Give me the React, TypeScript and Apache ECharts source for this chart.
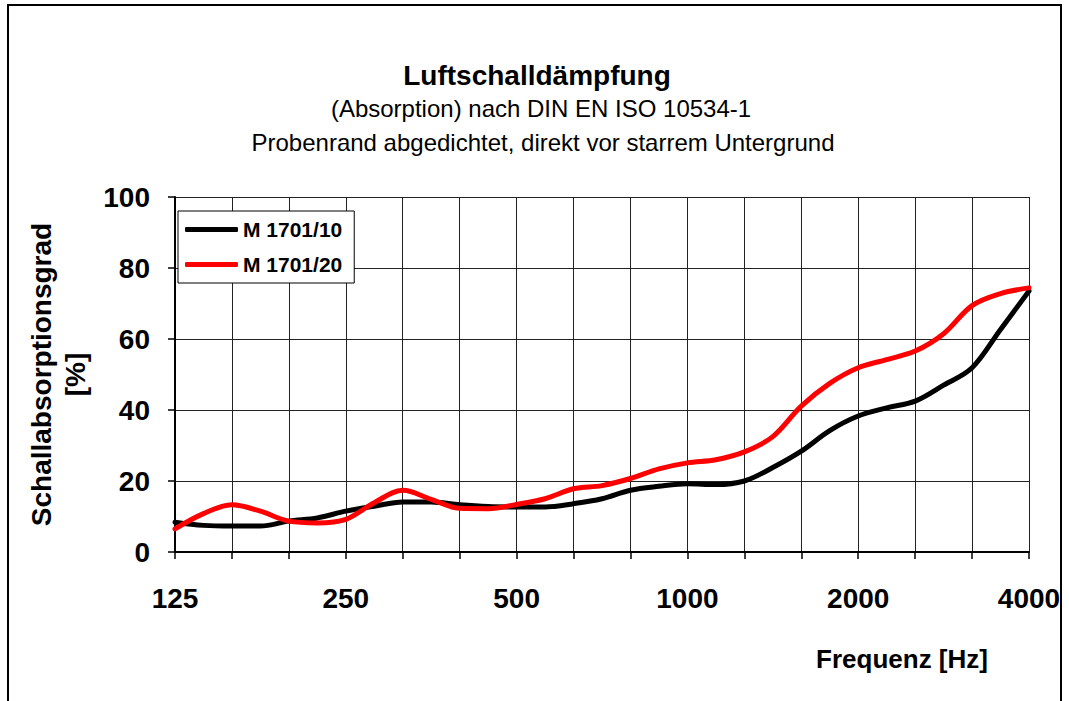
import React, { useEffect, useRef } from "react";
import * as echarts from "echarts";

// Position on the x axis, in third-octave bands counted from 125 Hz (0 = 125 Hz, 15 = 4000 Hz)
const bandPos = [0, 0.5, 1, 1.5, 2, 2.5, 3, 3.5, 4, 4.5, 5, 5.5, 6, 6.5, 7, 7.5, 8, 8.5, 9, 9.5, 10, 10.5, 11, 11.5, 12, 12.5, 13, 13.5, 14, 14.5, 15];

const xTickLabels = ["125", "", "", "250", "", "", "500", "", "", "1000", "", "", "2000", "", "", "4000"];

const seriesNames = ["M 1701/10", "M 1701/20"];

// Schallabsorptionsgrad [%]
const m1701_10 = [8.4, 7.5, 7.3, 7.3, 8.7, 9.6, 11.5, 12.9, 14.1, 14.1, 13.3, 12.8, 12.7, 12.7, 13.6, 15.0, 17.4, 18.5, 19.2, 19.0, 20.0, 23.8, 28.4, 34.2, 38.3, 40.6, 42.5, 47.0, 51.9, 62.7, 73.5];
const m1701_20 = [6.5, 10.8, 13.3, 11.5, 8.7, 8.2, 9.2, 13.9, 17.4, 14.8, 12.3, 12.2, 13.4, 15.0, 17.8, 18.7, 20.7, 23.4, 25.1, 26.0, 28.2, 32.5, 41.1, 47.5, 51.9, 54.2, 56.6, 61.5, 69.4, 72.8, 74.4];

const FONT = "'Liberation Sans', Arial, sans-serif";

export default function App() {
  const ref = useRef<HTMLDivElement>(null);

  useEffect(() => {
    if (!ref.current) return;
    const chart = echarts.init(ref.current, undefined, { renderer: "svg" });
    const toPairs = (vals: number[]) => vals.map((v, i) => [bandPos[i], v]);

    chart.setOption({
      animation: false,
      backgroundColor: "#fff",
      textStyle: { fontFamily: FONT },
      graphic: [
        {
          type: "rect",
          shape: { x: 8, y: 5, width: 1053, height: 720 },
          style: { fill: "none", stroke: "#000", lineWidth: 2 },
          silent: true,
        },
        {
          type: "text",
          x: 537,
          y: 75,
          style: {
            text: "Luftschalldämpfung",
            fontSize: 28,
            fontWeight: "bold",
            fontFamily: FONT,
            fill: "#000",
            align: "center",
            verticalAlign: "middle",
          },
        },
        {
          type: "text",
          x: 541,
          y: 108,
          style: {
            text: "(Absorption) nach DIN EN ISO 10534-1",
            fontSize: 24,
            fontFamily: FONT,
            fill: "#000",
            align: "center",
            verticalAlign: "middle",
          },
        },
        {
          type: "text",
          x: 543,
          y: 142,
          style: {
            text: "Probenrand abgedichtet, direkt vor starrem Untergrund",
            fontSize: 24,
            fontFamily: FONT,
            fill: "#000",
            align: "center",
            verticalAlign: "middle",
          },
        },
        {
          type: "text",
          x: 902,
          y: 659,
          style: {
            text: "Frequenz [Hz]",
            fontSize: 26,
            fontWeight: "bold",
            fontFamily: FONT,
            fill: "#000",
            align: "center",
            verticalAlign: "middle",
          },
        },
      ],
      legend: {
        orient: "vertical",
        left: 178,
        top: 211,
        backgroundColor: "#fff",
        borderColor: "#000",
        borderWidth: 1,
        padding: [8, 12, 8, 7],
        itemWidth: 53,
        itemHeight: 5,
        itemGap: 14,
        icon: "roundRect",
        textStyle: { fontSize: 21, fontWeight: "bold", color: "#000", fontFamily: FONT },
        data: seriesNames,
      },
      grid: { left: 175, right: 40, top: 197, bottom: 149, containLabel: false },
      xAxis: {
        type: "value",
        min: 0,
        max: 15,
        interval: 1,
        axisLine: { show: true, lineStyle: { color: "#000", width: 2 } },
        axisTick: { show: true, length: 7, lineStyle: { color: "#000", width: 1.5 } },
        splitLine: { show: true, lineStyle: { color: "#222", width: 1 } },
        axisLabel: {
          formatter: (v: number) => xTickLabels[Math.round(v)] ?? "",
          fontSize: 28,
          fontWeight: "bold",
          color: "#000",
          margin: 32,
          fontFamily: FONT,
        },
      },
      yAxis: {
        type: "value",
        min: 0,
        max: 100,
        interval: 20,
        name: "Schallabsorptionsgrad\n[%]",
        nameLocation: "middle",
        nameRotate: 90,
        nameGap: 75,
        nameTextStyle: { fontSize: 28, fontWeight: "bold", color: "#000", lineHeight: 34, fontFamily: FONT },
        axisLine: { show: true, lineStyle: { color: "#000", width: 2 } },
        axisTick: { show: true, length: 7, lineStyle: { color: "#000", width: 1.5 } },
        splitLine: { show: true, lineStyle: { color: "#222", width: 1 } },
        axisLabel: { fontSize: 28, fontWeight: "bold", color: "#000", margin: 25, fontFamily: FONT },
      },
      series: [
        {
          name: seriesNames[0],
          type: "line",
          data: toPairs(m1701_10),
          symbol: "none",
          smooth: 0.35,
          color: "#000",
          lineStyle: { color: "#000", width: 5, cap: "round", join: "round" },
        },
        {
          name: seriesNames[1],
          type: "line",
          data: toPairs(m1701_20),
          symbol: "none",
          smooth: 0.35,
          color: "#ff0000",
          lineStyle: { color: "#ff0000", width: 5, cap: "round", join: "round" },
        },
      ],
    });

    return () => chart.dispose();
  }, []);

  return (
    <div
      ref={ref}
      style={{ position: "absolute", left: 0, top: 0, width: 1069, height: 701 }}
    />
  );
}
